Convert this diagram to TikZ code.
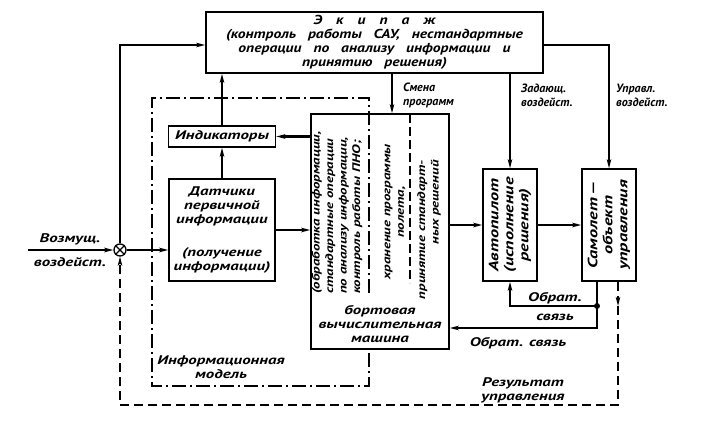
\documentclass[tikz,border=0pt]{standalone}
\usepackage{fontspec}
\setmainfont{PT Sans}[FakeStretch=1.35]
\newfontfamily\narrowfont{PT Sans}[WordSpace=2.5]
\newfontfamily\crewfont{PT Sans}[FakeStretch=1.2, WordSpace=3]
\usetikzlibrary{arrows.meta, positioning}
\newcommand{\lsp}{\hspace{14pt}}

\begin{document}
\begin{tikzpicture}[
  x=1pt, y=-1pt,
  font=\fontsize{12.5}{14}\selectfont\bfseries\itshape,
  >={Stealth[length=9pt, width=4.5pt, inset=2pt]},
  box/.style={rectangle, draw, line width=1.5pt, inner sep=2pt, align=center},
  sig/.style={->, line width=2.2pt},
  arrow/.style={->, line width=1.5pt},
  thinarrow/.style={->, line width=1.2pt},
  model/.style={line width=1.2pt, dash pattern=on 14pt off 4pt on 2pt off 4pt},
  fbline/.style={line width=1.2pt, dash pattern=on 9pt off 5pt},
  lbl/.style={align=left, inner sep=0pt},
  narrow/.style={font=\fontsize{12}{14}\narrowfont\bfseries\itshape},
  column/.style={font=\fontsize{11}{13.5}\selectfont\bfseries\itshape},
  upright/.style={font=\fontsize{13.5}{15}\selectfont\bfseries\itshape}
]
  \useasboundingbox (0,0) rectangle (722,434);

  \node[box, font=\fontsize{13}{14}\crewfont\bfseries\itshape, line width=1.6pt,
        minimum width=337pt, minimum height=61pt] (crew) at (374.5,42.5)
    {Э\lsp к\lsp и\lsp п\lsp а\lsp ж\\(контроль работы САУ, нестандартные\\операции по анализу информации и\\принятию решения)};

  \node[box, minimum width=107pt, minimum height=21pt] (ind) at (222,136.5) {Индикаторы};

  \node[box, minimum width=106pt, minimum height=102pt] (sens) at (222,230)
    {Датчики\\первичной\\информации\\[19pt](получение\\информации)};

  \node[box, minimum width=138pt, minimum height=235pt] (comp) at (380,231.5) {};
  \node[box, minimum width=54pt, minimum height=112pt] (ap) at (510,225) {};
  \node[box, minimum width=54pt, minimum height=112pt] (plane) at (609,225) {};

  \node[circle, draw, line width=1.3pt, minimum size=12pt, inner sep=0pt] (sum) at (120,250) {};
  \draw[line width=1.1pt] (sum.north west) -- (sum.south east) (sum.north east) -- (sum.south west);

  \node[lbl, column, rotate=90, anchor=west] (proc) at (337,294)
    {(обработка информации,\\стандартные операции\\по анализу информации,\\контроль работы ПНО;};
  \node[lbl, column, rotate=90, align=center] (store) at (395,212) {хранение программы\\полета,};
  \node[lbl, column, rotate=90, align=right, anchor=east] (decide) at (429,160) {принятие стандарт-\\ных решений};
  \node[lbl, align=center] (bvm) at (380,324) {бортовая\\вычислительная\\машина};
  \node[lbl, upright, rotate=90, align=center] (aptext) at (ap) {Автопилот\\(исполнение\\решения)};
  \node[lbl, upright, rotate=90, align=center] (planetext) at (plane) {Самолет\,---\\объект\\управления};

  \draw[model] (369,293) -- (369,98) -- (152,98) -- (152,386) -- (369,386) -- (369,349);
  \draw[line width=1.2pt, dash pattern=on 9pt off 4pt] (410,114) -- (410,283);

  \coordinate (in) at (28,250);
  \coordinate (fbdot) at (597,306);
  \coordinate (fbcorner) at (597,328);
  \coordinate (fbmid) at (618,306);

  \draw[sig] (in) -- (sum.west);
  \draw[sig] (sum.east) -- (sens.west |- sum.east);
  \draw[sig] (sens.east) -- (comp.west |- sens.east);
  \draw[sig] (comp.west |- ind.east) -- (ind.east);
  \draw[arrow] (sens.north) -- (ind.south);
  \draw[arrow] (ind.north) -- (ind.north |- crew.south);
  \draw[arrow] (sum.north) |- (crew.west |- 0,45);
  \draw[arrow] (crew.south -| 392,0) -- (comp.north -| 392,0);
  \draw[thinarrow] (crew.south -| ap.north) -- (ap.north);
  \draw[thinarrow] (crew.east |- 0,45) -| (plane.north);
  \draw[sig] (comp.east |- ap.west) -- (ap.west);
  \draw[sig] (ap.east) -- (plane.west);
  \draw[sig] (plane.south -| fbcorner) -- (fbcorner) -- (comp.east |- fbcorner);
  \fill (fbdot) circle (3pt);
  \draw[arrow] (fbdot) -| (ap.south);
  \draw[fbline, ->] (plane.south -| fbmid) -- (fbmid);
  \draw[fbline, ->] (fbmid) |- (120,405) -- (sum.south);

  \node[lbl, align=center] (dist) at (70,250) {Возмущ.\\[10pt]воздейст.};
  \node[lbl, narrow, anchor=west] (change) at (403,95.5) {Смена\\программ};
  \node[lbl, narrow, anchor=west] (setact) at (521,95.5) {Задающ.\\воздейст.};
  \node[lbl, narrow, anchor=west] (ctrlact) at (616,95.5) {Управл.\\воздейст.};
  \node[lbl, align=center] (fb1) at (555,307) {Обрат.\\[5pt]связь};
  \node[lbl] (fb2) at (518,343) {Обрат. связь};
  \node[lbl, align=center] (infmod) at (221,367) {Информационная\\модель};
  \node[lbl, align=center] (result) at (523,390) {Результат\\управления};
\end{tikzpicture}
\end{document}
